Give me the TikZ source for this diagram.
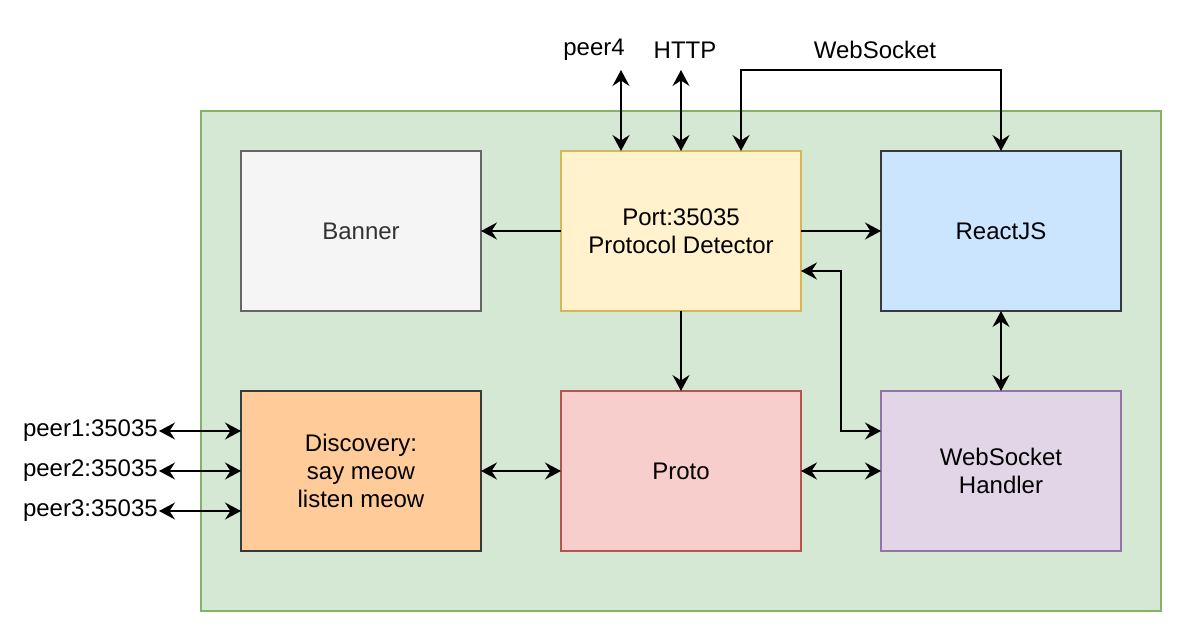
\documentclass[tikz,border=0pt]{standalone}
\usepackage{fontspec}
\setmainfont{Liberation Sans}
\usetikzlibrary{positioning, arrows.meta}
\definecolor{grpFill}{HTML}{d5e8d4}
\definecolor{grpLine}{HTML}{82b366}
\definecolor{bannerFill}{HTML}{f5f5f5}
\definecolor{bannerLine}{HTML}{666666}
\definecolor{bannerText}{HTML}{333333}
\definecolor{portFill}{HTML}{fff2cc}
\definecolor{portLine}{HTML}{d6b656}
\definecolor{reactFill}{HTML}{cce5ff}
\definecolor{darkLine}{HTML}{36393d}
\definecolor{discFill}{HTML}{ffcc99}
\definecolor{protoFill}{HTML}{f8cecc}
\definecolor{protoLine}{HTML}{b85450}
\definecolor{wshFill}{HTML}{e1d5e7}
\definecolor{wshLine}{HTML}{9673a6}

\begin{document}
\begin{tikzpicture}[
    x=1pt, y=-1pt,
    box/.style={draw, line width=1.5pt, minimum width=240pt, minimum height=160pt, align=center, inner sep=4pt, outer sep=0pt, font=\fontsize{24}{28}\selectfont},
    arr/.style={-{Stealth[length=16pt, width=17pt, inset=5.5pt]}, line width=1.5pt},
    biarr/.style={{Stealth[length=16pt, width=17pt, inset=5.5pt]}-{Stealth[length=16pt, width=17pt, inset=5.5pt]}, line width=1.5pt},
    lbl/.style={font=\fontsize{24}{28}\selectfont, inner sep=1pt},
]
\useasboundingbox (0,0) rectangle (1182,634);
\node[fill=grpFill, draw=grpLine, line width=1.5pt, minimum width=960pt, minimum height=500pt, anchor=north west, outer sep=0pt] (grp) at (201,111) {};
% top row
\node[box, fill=bannerFill, draw=bannerLine, text=bannerText, anchor=north west] (banner) at (241,151) {Banner};
\node[box, fill=portFill, draw=portLine, right=80pt of banner] (port) {Port:35035\\Protocol Detector};
\node[box, fill=reactFill, draw=darkLine, right=80pt of port] (react) {ReactJS};
% bottom row
\node[box, fill=discFill, draw=darkLine, below=80pt of banner] (disc) {Discovery:\\say meow\\listen meow};
\node[box, fill=protoFill, draw=protoLine, below=80pt of port] (proto) {Proto};
\node[box, fill=wshFill, draw=wshLine, below=80pt of react] (wsh) {WebSocket\\Handler};
% outside labels
\node[lbl] (peer4) at (594,50) {peer4};
\node[lbl] (http) at (685,50) {HTTP};
\node[lbl] (ws) at (875,50) {WebSocket};
\node[lbl, anchor=east] (peer1) at (159,431) {peer1:35035};
\node[lbl, anchor=east] (peer2) at (159,471) {peer2:35035};
\node[lbl, anchor=east] (peer3) at (159,511) {peer3:35035};
\coordinate (p4end) at (621,70);
\coordinate (httpend) at (681,70);
% connectors
\draw[biarr] (p4end) -- (p4end |- port.north);
\draw[biarr] (httpend) -- (httpend |- port.north);
\draw[biarr] ([xshift=60pt]port.north) -- ++(0,-81) -| (react.north);
\draw[arr] (port) -- (banner);
\draw[arr] (port) -- (react);
\draw[arr] (port) -- (proto);
\draw[biarr] (react) -- (wsh);
\draw[biarr] ([yshift=40pt]wsh.west) -- ++(-40,0) |- ([yshift=-40pt]port.east);
\draw[biarr] (proto) -- (wsh);
\draw[biarr] (disc) -- (proto);
\draw[biarr] (peer1.east) -- (peer1.east -| disc.west);
\draw[biarr] (peer2.east) -- (peer2.east -| disc.west);
\draw[biarr] (peer3.east) -- (peer3.east -| disc.west);
\end{tikzpicture}
\end{document}
